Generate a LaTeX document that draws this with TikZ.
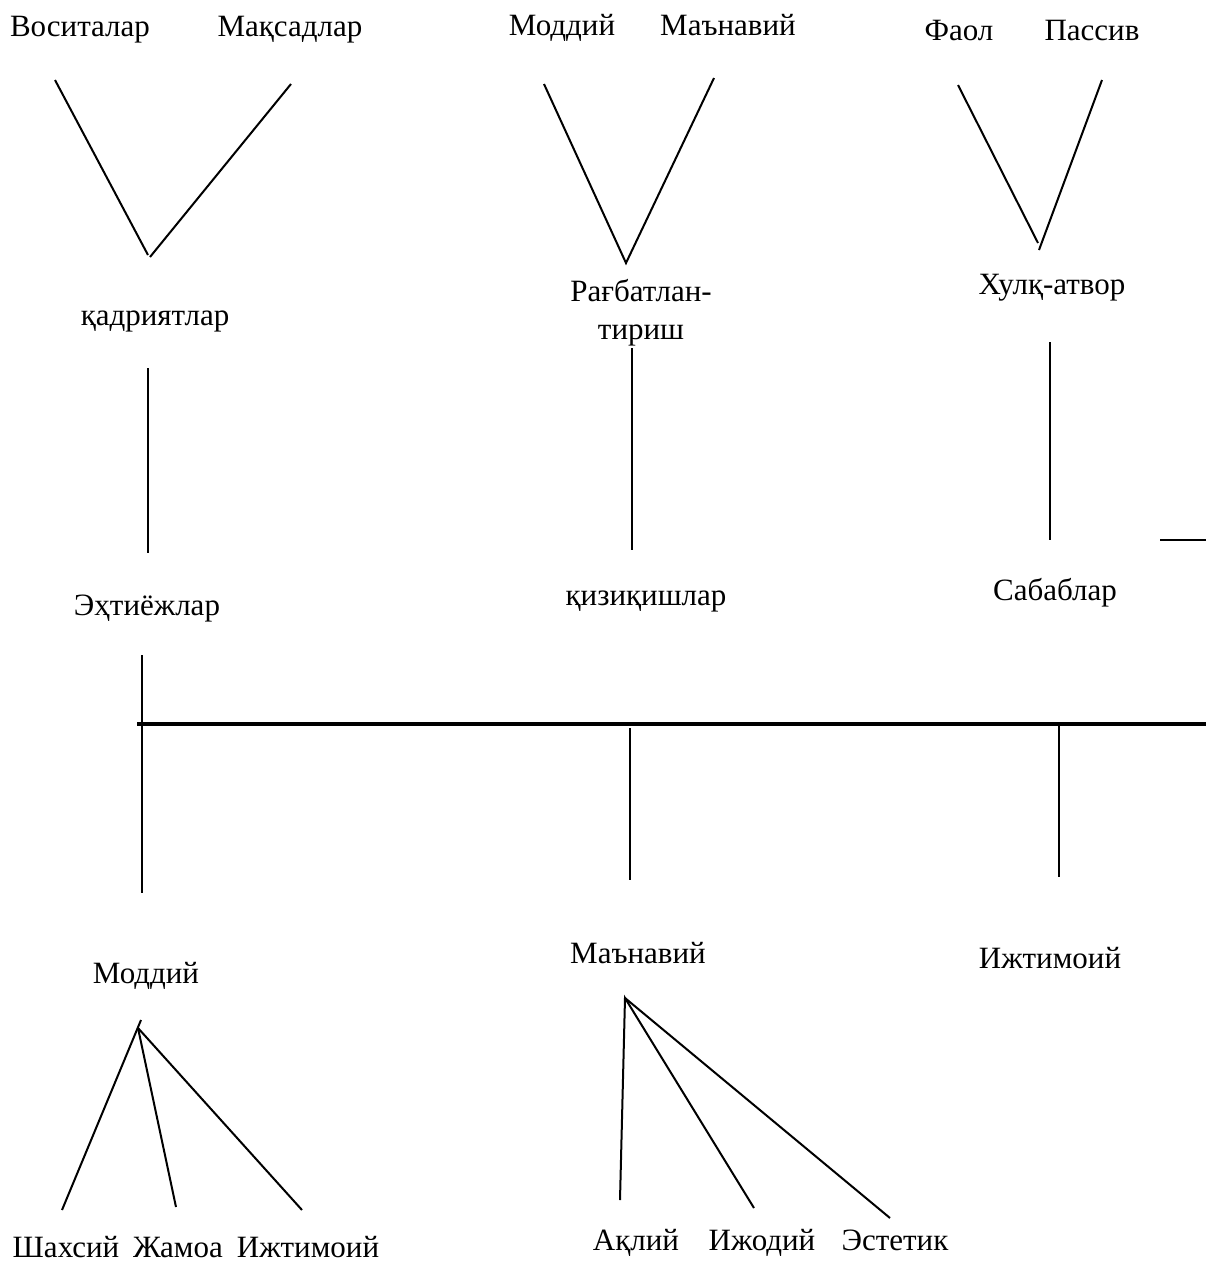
\documentclass[tikz,border=0pt]{standalone}
\usepackage{fontspec}
\setmainfont{Liberation Serif}
\tikzset{
  % node options
  word/.style={font=\fontsize{15.5}{19}\selectfont,inner sep=0pt,anchor=base},
  twoline/.style={word,align=center,anchor=center},
  % path options
  link/.style={line width=1pt},
  bar/.style={line width=1.6pt},
}
\begin{document}
\begin{tikzpicture}[x=0.5pt,y=-0.5pt]
  \useasboundingbox (0,0) rectangle (1206,1265);
  % top row
  \node[word] (vositalar) at (80,36) {Воситалар};
  \node[word] (maqsadlar) at (290,36) {Мақсадлар};
  \node[word] (moddiy top) at (562,35) {Моддий};
  \node[word] (manaviy top) at (728,35) {Маънавий};
  \node[word] (faol) at (959,40) {Фаол};
  \node[word] (passiv) at (1092,40) {Пассив};
  % second row
  \node[word] (qadriyatlar) at (155,325) {қадриятлар};
  \node[twoline] (ragbat) at (641,313) {Рағбатлан-\\тириш};
  \node[word] (xulq) at (1052,294) {Хулқ-атвор};
  % third row
  \node[word] (extiyoj) at (147,615) {Эҳтиёжлар};
  \node[word] (qiziqish) at (646,605) {қизиқишлар};
  \node[word] (sabab) at (1055,600) {Сабаблар};
  % fourth row
  \node[word] (moddiy) at (146,983) {Моддий};
  \node[word] (manaviy) at (638,963) {Маънавий};
  \node[word] (ijtimoiy) at (1050,968) {Ижтимоий};
  % bottom row
  \node[word] (shaxsiy) at (66,1257) {Шахсий};
  \node[word] (jamoa) at (178,1257) {Жамоа};
  \node[word] (ijtimoiy low) at (308,1257) {Ижтимоий};
  \node[word] (aqliy) at (636,1250) {Ақлий};
  \node[word] (ijodiy) at (762,1250) {Ижодий};
  \node[word] (estetik) at (895,1250) {Эстетик};

  % line ends
  \coordinate (v1 left) at (55,80);
  \coordinate (v1 right) at (291,84);
  \coordinate (v1 apex a) at (148,255);
  \coordinate (v1 apex b) at (150,257);
  \coordinate (v2 left) at (544,84);
  \coordinate (v2 right) at (714,78);
  \coordinate (v2 apex) at (626,263);
  \coordinate (v3 left) at (958,85);
  \coordinate (v3 right) at (1102,80);
  \coordinate (v3 apex a) at (1038,243);
  \coordinate (v3 apex b) at (1039,250);
  \coordinate (s1 top) at (148,368);
  \coordinate (s1 bot) at (148,553);
  \coordinate (s2 top) at (632,348);
  \coordinate (s2 bot) at (632,550);
  \coordinate (s3 top) at (1050,342);
  \coordinate (s3 bot) at (1050,540);
  \coordinate (tick a) at (1160,540);
  \coordinate (tick b) at (1206,540);
  \coordinate (bar left) at (137,724);
  \coordinate (bar right) at (1206,724);
  \coordinate (d1 top) at (142,655);
  \coordinate (d1 bot) at (142,893);
  \coordinate (d2 top) at (630,728);
  \coordinate (d2 bot) at (630,880);
  \coordinate (d3 top) at (1059,724);
  \coordinate (d3 bot) at (1059,877);
  \coordinate (f1 apex) at (138,1028);
  \coordinate (f1 tip) at (141,1020);
  \coordinate (f1 a) at (62,1210);
  \coordinate (f1 b) at (176,1207);
  \coordinate (f1 c) at (302,1210);
  \coordinate (f2 apex) at (625,998);
  \coordinate (f2 a) at (620,1200);
  \coordinate (f2 b) at (754,1208);
  \coordinate (f2 c) at (890,1218);

  % connectors
  \draw[link] (v1 left) -- (v1 apex a);
  \draw[link] (v1 right) -- (v1 apex b);
  \draw[link] (v2 left) -- (v2 apex) -- (v2 right);
  \draw[link] (v3 left) -- (v3 apex a);
  \draw[link] (v3 right) -- (v3 apex b);
  \draw[link] (s1 top) -- (s1 bot);
  \draw[link] (s2 top) -- (s2 bot);
  \draw[link] (s3 top) -- (s3 bot);
  \draw[link] (tick a) -- (tick b);
  \draw[bar] (bar left) -- (bar right);
  \draw[link] (d1 top) -- (d1 bot);
  \draw[link] (d2 top) -- (d2 bot);
  \draw[link] (d3 top) -- (d3 bot);
  \draw[link] (f1 a) -- (f1 tip);
  \draw[link] (f1 apex) -- (f1 b);
  \draw[link] (f1 apex) -- (f1 c);
  \draw[link] (f2 a) -- (f2 apex) -- (f2 b);
  \draw[link] (f2 apex) -- (f2 c);
\end{tikzpicture}
\end{document}
